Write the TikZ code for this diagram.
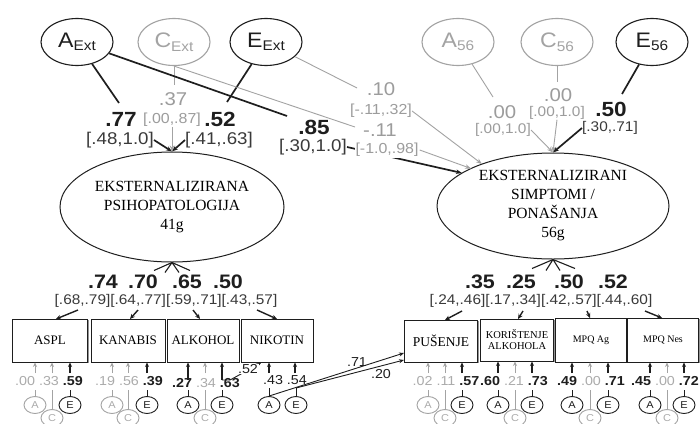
\documentclass[tikz,border=0pt]{standalone}
\usepackage{fontspec}
\setmainfont{Liberation Serif}
\setsansfont{Liberation Sans}[FakeStretch=1.1]
\usetikzlibrary{arrows.meta,shapes.geometric,shadows}
\definecolor{dk}{HTML}{1E1E1E}
\definecolor{gr}{HTML}{A3A3A3}
\definecolor{gt}{HTML}{9C9C9C}
\definecolor{gl}{HTML}{ABABAB}
\definecolor{bt}{HTML}{3A3A3A}
\newcommand\fs[1]{\fontsize{#1}{#1}\selectfont}
\begin{document}
\begin{tikzpicture}[x=1pt,y=-1pt,
  >={Stealth[length=6pt,width=4.5pt]},
  top/.style={ellipse, line width=1.1pt, minimum width=72pt, minimum height=47pt, inner sep=0pt, font=\sffamily},
  topk/.style={top, draw=dk, text=dk},
  topg/.style={top, draw=gr, text=gr},
  big/.style={ellipse, draw=dk, line width=1pt, inner sep=0pt, align=center, font=\fontsize{15.5}{19}\selectfont, text=black},
  lk/.style={draw=dk, line width=1.7pt},
  lg/.style={draw=gr, line width=0.9pt},
  bv/.style={font=\sffamily\bfseries\fs{20.5}, text=dk, inner sep=0pt},
  gv/.style={font=\sffamily\fs{18.5}, text=gt, inner sep=0pt},
  bkL/.style={font=\sffamily\fs{17}, text=bt, inner sep=0pt},
  bkS/.style={font=\sffamily\fs{14}, text=bt, inner sep=0pt},
  gbk/.style={font=\sffamily\fs{14.5}, text=gt, inner sep=0pt},
  gbkS/.style={font=\sffamily\fs{14}, text=gt, inner sep=0pt},
  lv/.style={font=\sffamily\bfseries\fs{19.5}, text=dk, inner sep=0pt},
  lb/.style={font=\sffamily\fs{14}, text=bt, inner sep=0pt},
  sm/.style={font=\sffamily\fs{13}, text=dk, inner sep=0pt},
  sv/.style={font=\sffamily\fs{13}, text=dk, inner sep=0pt},
  box/.style={draw=dk, line width=0.9pt, fill=white, minimum height=43pt, inner sep=1pt, align=center,
    drop shadow={shadow xshift=1.3pt, shadow yshift=-1.3pt, fill=black!60, opacity=0.7}},
  ace/.style={ellipse, line width=0.9pt, minimum width=22pt, minimum height=17pt, inner sep=0pt, font=\sffamily\fs{10}},
  acek/.style={ace, draw=dk, text=dk},
  aceg/.style={ace, draw=gr, text=gl},
  ak/.style={draw=dk, line width=1.3pt, -{Stealth[length=4.5pt,width=4pt]}},
  ag/.style={draw=gr, line width=0.8pt, -{Stealth[length=4.5pt,width=4pt]}},
  tk/.style={draw=dk, line width=0.9pt},
  tg/.style={draw=gr, line width=0.8pt},
  la/.style={draw=dk, line width=1.4pt, -{Stealth[length=5pt,width=4.5pt]}},
  fan/.style={draw=dk, line width=1.1pt}
]
\fill[white] (0,0) rectangle (700,423);
\useasboundingbox (0,0) rectangle (700,423);

% ---- top latent variables
\node[topk] (Aext) at (77,42) {{\fs{21}A}{\fs{14}\raisebox{-3.5pt}{Ext}}};
\node[topg] (Cext) at (174,42) {{\fs{21}C}{\fs{14}\raisebox{-3.5pt}{Ext}}};
\node[topk] (Eext) at (266,42) {{\fs{21}E}{\fs{14}\raisebox{-3.5pt}{Ext}}};
\node[topg] (A56) at (458,42) {{\fs{21}A}{\fs{14}\raisebox{-3.5pt}{56}}};
\node[topg] (C56) at (557,42) {{\fs{21}C}{\fs{14}\raisebox{-3.5pt}{56}}};
\node[topk] (E56) at (652,42) {{\fs{21}E}{\fs{14}\raisebox{-3.5pt}{56}}};

% ---- factor ellipses
\node[big, minimum width=224pt, minimum height=110pt] (F1) at (172,207)
  {EKSTERNALIZIRANA\\PSIHOPATOLOGIJA\\41g};
\node[big, minimum width=232pt, minimum height=106pt] (F2) at (553,206)
  {EKSTERNALIZIRANI\\SIMPTOMI /\\PONAŠANJA\\56g};

% ---- path labels (top)
\node[bv] (v77) at (121,119.5) {.77};
\node[bkL] (c77) at (120,140) {[.48,1.0]};
\node[gv] (v37) at (173,99) {.37};
\node[gbk] (c37) at (172,120) {[.00,.87]};
\node[bv] (v52) at (220,119.5) {.52};
\node[bkL] (c52) at (219,140) {[.41,.63]};
\node[bv] (v85) at (314,127) {.85};
\node[bkL] (c85) at (313,147) {[.30,1.0]};
\node[gv] (v10) at (381,89) {.10};
\node[gbk] (c10) at (381,111) {[-.11,.32]};
\node[gv] (v11) at (380,130) {-.11};
\node[gv] (vA56) at (502,112) {.00};
\node[gbkS] (cA56) at (503,130) {[.00,1.0]};
\node[gv] (vC56) at (558,95) {.00};
\node[gbkS] (cC56) at (557,113) {[.00,1.0]};
\node[bv] (vE56) at (611,109) {.50};
\node[bkS] (cE56) at (610,128) {[.30,.71]};

\coordinate (a77) at (119,103);
\coordinate (a37) at (174,85);
\coordinate (a52) at (227,102);
\coordinate (a85) at (287,116);
\coordinate (a11) at (355,127);
\coordinate (a10) at (357,88);
\coordinate (aA56) at (493,97);
\coordinate (aC56) at (557,82);
\coordinate (aE56) at (622,94);
\coordinate (f2c) at (462,173);
\coordinate (f2a) at (471,168.5);
\coordinate (f2b) at (482,164);

% ---- top connectors
\draw[lk] (Aext) -- (a77);
\draw[lk,->] (c77.east) -- (F1.north);
\draw[lg] (Cext.south) -- (a37);
\draw[lg,->] (c37.south) -- (F1.north);
\draw[lk] (Eext) -- (a52);
\draw[lk,->] (c52.west) -- (F1.north);
\draw[lk] (Aext) -- (a85);
\draw[lk,->] (c85.east) -- (f2c);
\draw[lg] (Cext.south) -- (a11);
\node[gbk, fill=white, inner sep=1pt] (c11) at (387,150) {[-1.0,.98]};
\draw[lg,->] (c11.east) -- (f2a);
\draw[lg] (Eext) -- (a10);
\draw[lg,->] (c10.east) -- (f2b);
\draw[lg] (A56) -- (aA56);
\draw[lg,->] (cA56.east) -- (F2.north);
\draw[lg] (C56.south) -- (aC56);
\draw[lg,->] (cC56.south) -- (F2.north);
\draw[lk] (E56) -- (aE56);
\draw[lk,->] (cE56.west) -- (F2.north);

% ---- fans under factors
\draw[fan] (F1.south) -- ++(-18,8) (F1.south) -- ++(-7,10) (F1.south) -- ++(7,10) (F1.south) -- ++(18,8);
\draw[fan] (F2.south) -- ++(-21,9) (F2.south) -- ++(-7,11) (F2.south) -- ++(7,11) (F2.south) -- ++(22,9);

% ---- loadings
\node[lv] (L1) at (103,282) {.74};
\node[lv] (L2) at (143,282) {.70};
\node[lv] (L3) at (187,282) {.65};
\node[lv] (L4) at (228,282) {.50};
\node[lb] (LB) at (166,301) {[.68,.79][.64,.77][.59,.71][.43,.57]};
\node[lv] (R1) at (480,282) {.35};
\node[lv] (R2) at (521,282) {.25};
\node[lv] (R3) at (569,282) {.50};
\node[lv] (R4) at (613,282) {.52};
\node[lb] (RB) at (541,301) {[.24,.46][.17,.34][.42,.57][.44,.60]};

% ---- indicator boxes
\node[box, minimum width=75pt, font=\fs{13}] (ASPL) at (50,340.5) {ASPL};
\node[box, minimum width=74pt, font=\fs{13}] (KAN) at (128,340.5) {KANABIS};
\node[box, minimum width=72pt, font=\fs{13}] (ALK) at (203,340.5) {ALKOHOL};
\node[box, minimum width=72pt, font=\fs{13}] (NIK) at (277,340.5) {NIKOTIN};
\node[box, minimum width=73pt, minimum height=42pt, font=\fs{13.5}] (PUS) at (441,341) {PUŠENJE};
\node[box, minimum width=73pt, minimum height=42pt, font=\fontsize{10.5}{11}\selectfont] (KOR) at (517,340) {KORIŠTENJE\\ALKOHOLA};
\node[box, minimum width=71pt, minimum height=44pt, font=\fs{10}] (MAG) at (591,340) {MPQ Ag};
\node[box, minimum width=71pt, minimum height=44pt, font=\fs{10}] (MNE) at (663,340) {MPQ Nes};

% loading arrows
\coordinate (s1) at (78,310);  \coordinate (t1) at (56,319);
\coordinate (s2) at (138,310); \coordinate (t2) at (130,319);
\coordinate (s3) at (193,310); \coordinate (t3) at (200,319);
\coordinate (s4) at (257,310); \coordinate (t4) at (277,319);
\coordinate (s5) at (462,311); \coordinate (t5) at (445,320);
\coordinate (s6) at (523,311); \coordinate (t6) at (518,319);
\coordinate (s7) at (587,311); \coordinate (t7) at (590,318);
\coordinate (s8) at (645,311); \coordinate (t8) at (662,318);
\foreach \i in {1,...,8} {\draw[la] (s\i) -- (t\i);}

% ---- ACE for indicators
\foreach \b/\xa/\xc/\xe/\ca/\cc/\ce/\ya in {ASPL/35/52/70/g/g/k/373, KAN/112/128/147/g/g/k/373, ALK/188/205/222/k/g/k/380, PUS/428/445/462/g/g/k/373, KOR/498/515/532/k/g/k/373, MAG/572/590/608/k/g/k/373, MNE/650/667/684/k/g/k/373} {
  \coordinate (\b-pa) at (\xa,\ya);
  \coordinate (\b-pc) at (\xc,373);
  \coordinate (\b-pe) at (\xe,\ya);
  \draw[a\ca] (\b-pa) -- (\b-pa |- \b.south);
  \draw[a\cc] (\b-pc) -- (\b-pc |- \b.south);
  \draw[a\ce] (\b-pe) -- (\b-pe |- \b.south);
  \node[ace\ca] (\b-A) at (\xa,405) {A};
  \node[ace\ce] (\b-E) at (\xe,405) {E};
  \node[ace\cc] (\b-C) at (\xc,418) {C};
  \draw[t\ca] (\b-A.north) -- ++(0,-6);
  \draw[t\ce] (\b-E.north) -- ++(0,-6);
  \draw[t\cc] (\b-C.north) -- ++(0,-19);
}
% NIKOTIN (A and E only)
\coordinate (NIK-pa) at (269,373);
\coordinate (NIK-pe) at (295,373);
\draw[ak] (NIK-pa) -- (NIK-pa |- NIK.south);
\draw[ak] (NIK-pe) -- (NIK-pe |- NIK.south);
\node[acek] (NIK-A) at (269,405) {A};
\node[acek] (NIK-E) at (296,405) {E};
\coordinate (NIK-et) at (296,388);
\draw[tk] (NIK-A.north) -- ++(0,-8);
\draw[tk] (NIK-E.north) -- (NIK-et);

% values
\node[sm] (vASPL) at (49,381) {\textcolor{gl}{.00 .33} \textbf{.59}};
\node[sm] (vKAN) at (129,381) {\textcolor{gl}{.19 .56} \textbf{.39}};
\node[sm] (vALK) at (206,383) {\textbf{.27} \textcolor{gl}{.34} \textbf{.63}};
\node[sm] (vNIK) at (285,380) {.43 .54};
\node[sm] (vPUS) at (446,381) {\textcolor{gl}{.02 .11} \textbf{.57}};
\node[sm] (vKOR) at (514,381) {\textbf{.60} \textcolor{gl}{.21} \textbf{.73}};
\node[sm] (vMAG) at (591,381) {\textbf{.49} \textcolor{gl}{.00} \textbf{.71}};
\node[sm] (vMNE) at (665,381) {\textbf{.45} \textcolor{gl}{.00} \textbf{.72}};

% cross paths
\coordinate (pusA) at (404,353);
\coordinate (pusE) at (404,360);
\draw[tk,-{Stealth[length=5pt,width=4pt]}] (NIK-A.north) -- (pusA);
\draw[tk,-{Stealth[length=5pt,width=4pt]}] (NIK-et) -- (pusE);
\node[sv] (l71) at (357,362) {.71};
\node[sv] (l20) at (381,374) {.20};
\coordinate (k52a) at (222,380);
\coordinate (k52b) at (230,380);
\coordinate (k52c) at (261,363);
\draw[tk,-{Stealth[length=5pt,width=4pt]}] (k52a) -- (k52b) -- (k52c);
\node[sv, fill=white, inner sep=0.6pt] (l52) at (248,369) {.52};
\end{tikzpicture}
\end{document}
